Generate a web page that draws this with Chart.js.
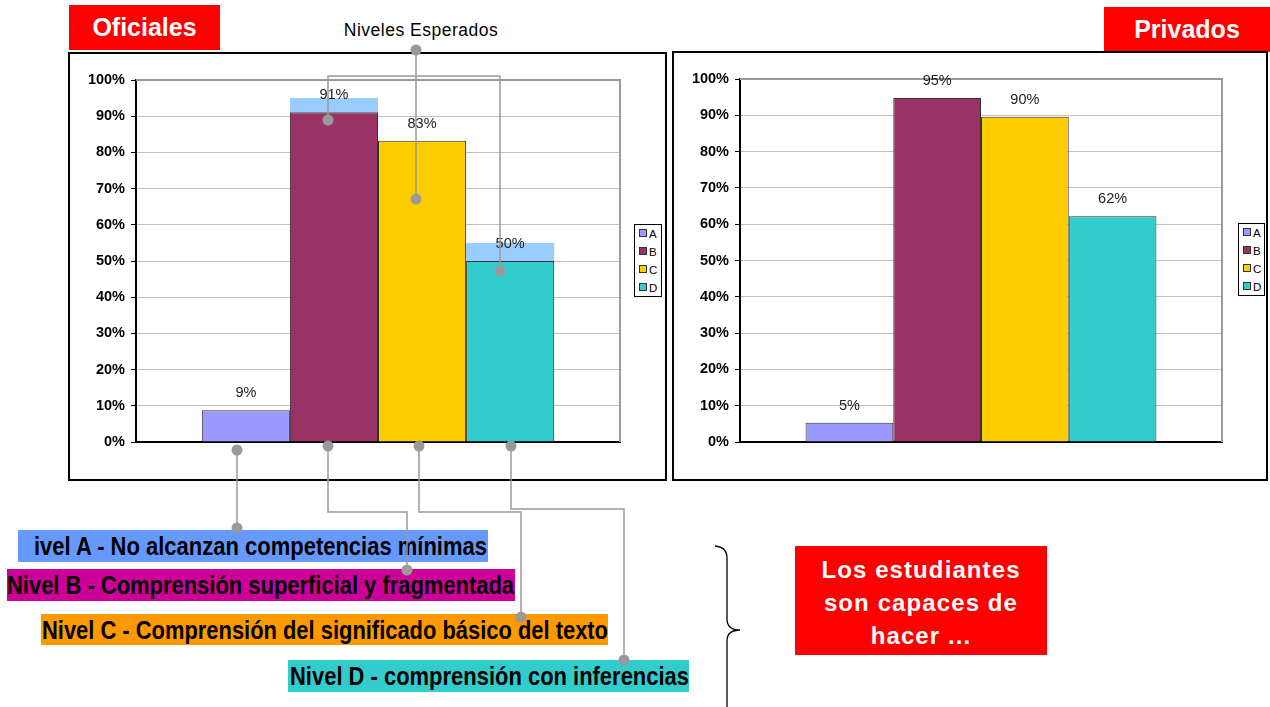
<!DOCTYPE html>
<html>
<head>
<meta charset="utf-8">
<script src="https://cdn.jsdelivr.net/npm/chart.js@4.4.1/dist/chart.umd.min.js"></script>
<style>
  body { margin: 0; width: 1270px; height: 707px; overflow: hidden; background: #fff; font-family: "Liberation Sans", Arial, sans-serif; position: relative; }
  .abs { position: absolute; }
  .redbox { position: absolute; background: #ff0000; color: #fff; font-weight: bold; display: flex; align-items: center; justify-content: center; text-align: center; }
  .chartbox { position: absolute; border: 2px solid #000; box-sizing: border-box; background: #fff; }
  .legend { position: absolute; border: 1px solid #000; background: #fff; box-sizing: border-box; font-size: 11.5px; color: #000; }
  .legend div { position: absolute; left: 4px; height: 12px; line-height: 12px; }
  .legend span.sw { display: inline-block; width: 6px; height: 6px; border: 1px solid #333; margin-right: 2px; vertical-align: 1px; }
  .lvl { position: absolute; height: 32px; }
  .lvl span { position: absolute; top: 0; white-space: nowrap; font-family: "Liberation Sans Narrow", "Liberation Sans", Arial, sans-serif; font-weight: bold; font-size: 25px; line-height: 32px; color: #000; transform-origin: 0 50%; }
</style>
</head>
<body>

<div class="redbox" style="left:69px;top:5px;width:151px;height:45px;font-size:25px;">Oficiales</div>
<div class="redbox" style="left:1104px;top:7px;width:166px;height:45px;font-size:25px;">Privados</div>
<div class="abs" style="left:301px;top:20px;width:240px;text-align:center;font-size:17.5px;letter-spacing:0.5px;">Niveles Esperados</div>

<div class="chartbox" style="left:68px;top:52px;width:599px;height:429px;">
  <canvas id="chartOficiales" width="595" height="425"></canvas>
</div>
<div class="legend" id="legendOficiales" style="left:634px;top:224px;width:28px;height:73px;"></div>

<div class="chartbox" style="left:672px;top:51px;width:596px;height:430px;">
  <canvas id="chartPrivados" width="592" height="426"></canvas>
</div>
<div class="legend" id="legendPrivados" style="left:1238px;top:223px;width:27px;height:73px;"></div>

<div class="lvl" style="left:18px;top:530px;width:470px;background:#6699ff;"><span data-x="16" data-w="453">ivel A - No alcanzan competencias mínimas</span></div>
<div class="lvl" style="left:7px;top:569px;width:508px;background:#cc0099;"><span data-x="0" data-w="507">Nivel B - Comprensión superficial y fragmentada</span></div>
<div class="lvl" style="left:41px;top:614px;width:567px;height:31px;background:#ff9900;"><span data-x="1" data-w="566">Nivel C - Comprensión del significado básico del texto</span></div>
<div class="lvl" style="left:288px;top:660px;width:401px;background:#33cccc;"><span data-x="2" data-w="399">Nivel D - comprensión con inferencias</span></div>

<div class="redbox" style="left:795px;top:546px;width:252px;height:109px;font-size:24px;line-height:33px;letter-spacing:1.1px;padding-top:4px;box-sizing:border-box;">Los estudiantes<br>son capaces de<br>hacer ...</div>

<svg class="abs" style="left:0;top:0;" width="1270" height="707">
  <g fill="none" stroke="#9a9a9a" stroke-width="1.5">
    <polyline points="416,50 416,199"/>
    <polyline points="328,120 328,76 500,76 500,271"/>
    <polyline points="237,450 237,528"/>
    <polyline points="328,446 328,512 407,512 407,570"/>
    <polyline points="419,446 419,512 521,512 521,617"/>
    <polyline points="511,446 511,509 624,509 624,660"/>
  </g>
  <g fill="#9a9a9a">
    <circle cx="416" cy="50" r="5.5"/><circle cx="416" cy="199" r="5.5"/>
    <circle cx="328" cy="120" r="5.5"/><circle cx="500" cy="271" r="5.5"/>
    <circle cx="237" cy="450" r="5.5"/><circle cx="237" cy="528" r="5.5"/>
    <circle cx="328" cy="446" r="5.5"/><circle cx="407" cy="570" r="5.5"/>
    <circle cx="419" cy="446" r="5.5"/><circle cx="521" cy="617" r="5.5"/>
    <circle cx="511" cy="446" r="5.5"/><circle cx="624" cy="660" r="5.5"/>
  </g>
  <path d="M715,546 Q727,547 727,558 L727,619 Q727,630 740,630 Q727,630 727,641 L727,707" fill="none" stroke="#000" stroke-width="1.3"/>
</svg>

<script>
// series and values
const levels = ["A", "B", "C", "D"];
const oficiales = [8.8, 91.1, 83.2, 50.0];
const oficialesEsperado = [null, 95, null, 55];
const privados = [5.3, 94.8, 89.6, 62.2];
const privadosEsperado = [null, null, null, null];
const yTickMax = 100;
const yTickStep = 10;

const levelColors = ["#9999ff", "#993366", "#ffcc00", "#33cccc"];
const FONT = "'Liberation Sans', Arial, sans-serif";

// light blue "expected" part above the bar
const expectedPlugin = {
  id: "expected",
  beforeDatasetsDraw(chart, args, opts) {
    const ctx = chart.ctx;
    const y = chart.scales.y;
    opts.values.forEach((v, i) => {
      if (v == null) return;
      const bar = chart.getDatasetMeta(i).data[0];
      ctx.save();
      ctx.fillStyle = "#99ccff";
      const top = y.getPixelForValue(v);
      ctx.fillRect(bar.x - bar.width / 2, top, bar.width, bar.y - top);
      ctx.restore();
    });
  },
};

// value labels above the bars
const valueLabels = {
  id: "valueLabels",
  afterDatasetsDraw(chart) {
    const ctx = chart.ctx;
    ctx.save();
    ctx.font = "14.5px " + FONT;
    ctx.fillStyle = "#222";
    ctx.textAlign = "center";
    ctx.textBaseline = "middle";
    chart.data.datasets.forEach((ds, i) => {
      const bar = chart.getDatasetMeta(i).data[0];
      ctx.fillText(Math.round(ds.data[0]) + "%", bar.x, bar.y - 17);
    });
    ctx.restore();
  },
};

// gray frame on top and right of plot area
const plotFrame = {
  id: "plotFrame",
  beforeDatasetsDraw(chart) {
    const { ctx, chartArea: a } = chart;
    ctx.save();
    ctx.strokeStyle = "#9a9a9a";
    ctx.lineWidth = 2;
    ctx.beginPath();
    ctx.moveTo(a.left, a.top);
    ctx.lineTo(a.right, a.top);
    ctx.lineTo(a.right, a.bottom);
    ctx.stroke();
    ctx.restore();
  },
};

function makeChart(id, values, expected, padRight, padBottom) {
  return new Chart(document.getElementById(id), {
    type: "bar",
    data: {
      labels: [""],
      datasets: levels.map((name, i) => ({
        label: name,
        data: [values[i]],
        backgroundColor: levelColors[i],
        borderColor: "#333",
        borderWidth: 1,
      })),
    },
    options: {
      responsive: false,
      animation: false,
      categoryPercentage: 0.728,
      barPercentage: 1,
      layout: { padding: { top: 26, right: padRight, bottom: padBottom, left: 0 } },
      plugins: {
        legend: { display: false },
        tooltip: { enabled: false },
        expected: { values: expected },
      },
      scales: {
        x: {
          grid: { display: false },
          ticks: { display: false },
          border: { color: "#000", width: 2 },
          afterFit: (s) => { s.height = 0; },
        },
        y: {
          min: 0,
          max: yTickMax,
          ticks: {
            stepSize: yTickStep,
            callback: (v) => v + "%",
            font: { family: FONT, size: 14.5, weight: "bold" },
            color: "#000",
            padding: 6,
          },
          grid: { color: "#c0c0c0", tickColor: "#000", tickLength: 5 },
          border: { color: "#000", width: 2 },
          afterFit: (s) => { s.width = 66; },
        },
      },
    },
    plugins: [plotFrame, expectedPlugin, valueLabels],
  });
}

makeChart("chartOficiales", oficiales, oficialesEsperado, 45, 37);
makeChart("chartPrivados", privados, privadosEsperado, 44, 37);

function buildLegend(id) {
  const box = document.getElementById(id);
  levels.forEach((name, i) => {
    const row = document.createElement("div");
    row.style.top = (3 + i * 18) + "px";
    row.innerHTML = '<span class="sw" style="background:' + levelColors[i] + '"></span>' + name;
    box.appendChild(row);
  });
}
buildLegend("legendOficiales");
buildLegend("legendPrivados");

// squeeze the level captions to their width on the slide
document.querySelectorAll(".lvl span").forEach((s) => {
  const w = s.getBoundingClientRect().width;
  s.style.left = s.dataset.x + "px";
  s.style.transform = "scaleX(" + (Number(s.dataset.w) / w) + ")";
});
</script>
</body>
</html>
